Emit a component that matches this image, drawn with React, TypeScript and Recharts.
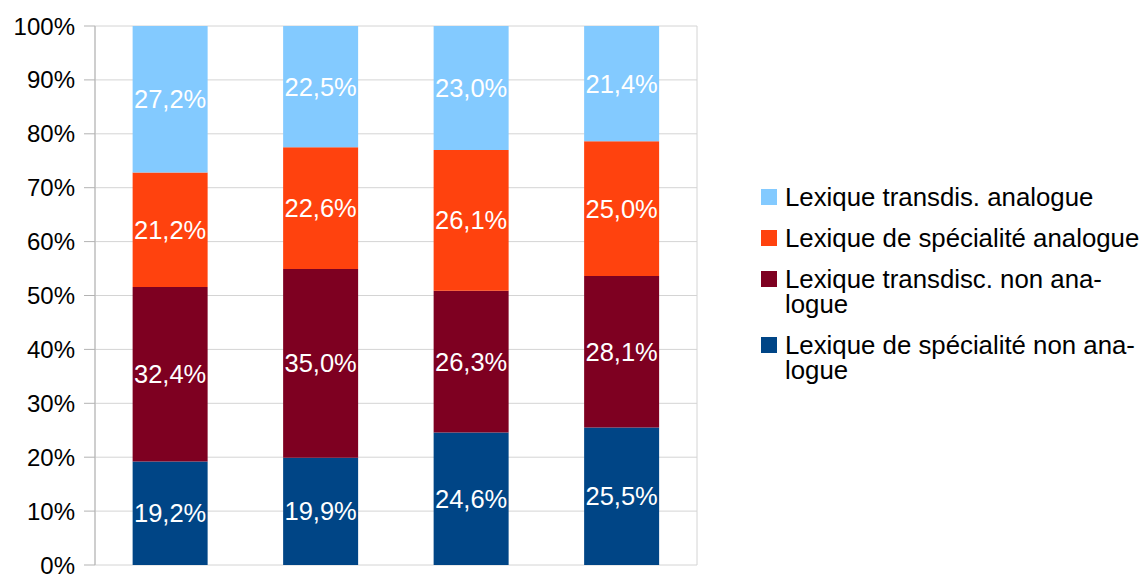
import { Bar, BarChart, CartesianGrid, LabelList, Legend, XAxis, YAxis } from "recharts";

const categories = ["1", "2", "3", "4"];
const specNonAnalogue = [19.2, 19.9, 24.6, 25.5];
const transNonAnalogue = [32.4, 35.0, 26.3, 28.1];
const specAnalogue = [21.2, 22.6, 26.1, 25.0];
const transAnalogue = [27.2, 22.5, 23.0, 21.4];
const yTicks = [0, 10, 20, 30, 40, 50, 60, 70, 80, 90, 100];

const series = [
  { key: "specNon", name: "Lexique de spécialité non analogue", legend: "Lexique de spécialité non ana-\nlogue", color: "#004586" },
  { key: "transNon", name: "Lexique transdisc. non analogue", legend: "Lexique transdisc. non ana-\nlogue", color: "#7E0021" },
  { key: "specAna", name: "Lexique de spécialité analogue", legend: "Lexique de spécialité analogue", color: "#FF420E" },
  { key: "transAna", name: "Lexique transdis. analogue", legend: "Lexique transdis. analogue", color: "#83CAFF" },
];

const data = categories.map((c, i) => ({
  cat: c,
  specNon: specNonAnalogue[i],
  transNon: transNonAnalogue[i],
  specAna: specAnalogue[i],
  transAna: transAnalogue[i],
}));

const FONT = "'Liberation Sans', Arial, sans-serif";
const fmt = (v: number) => `${v.toFixed(1).replace(".", ",")}%`;

function LegendBox() {
  return (
    <div style={{ fontFamily: FONT, fontSize: 25.8, lineHeight: "25px", color: "#000", textAlign: "left" }}>
      {[...series].reverse().map((s) => (
        <div key={s.key} style={{ display: "flex", alignItems: "flex-start", marginBottom: 16 }}>
          <span
            style={{ width: 16, height: 16, background: s.color, marginTop: 4, marginRight: 8, flex: "none" }}
          />
          <span style={{ whiteSpace: "pre" }}>{s.legend}</span>
        </div>
      ))}
    </div>
  );
}

export default function App() {
  return (
    <div style={{ position: "absolute", left: 0, top: 0, width: 1143, height: 574, background: "#fff" }}>
      <BarChart
        width={1143}
        height={574}
        data={data}
        margin={{ top: 26, right: 446, bottom: 9, left: 0 }}
        barCategoryGap="25%"
      >
        <CartesianGrid
          stroke="#d4d4d4"
          verticalCoordinatesGenerator={({ offset }: any) => [offset.left, offset.left + offset.width]}
        />
        <XAxis dataKey="cat" tick={false} height={0} axisLine={{ stroke: "#b3b3b3", strokeWidth: 2 }} tickLine={false} />
        <YAxis
          width={95}
          domain={[0, 100]}
          ticks={yTicks}
          tickFormatter={(v) => `${v}%`}
          tick={{ fill: "#000", fontSize: 24, fontFamily: FONT }}
          tickSize={11}
          tickMargin={9}
          tickLine={{ stroke: "#b3b3b3" }}
          axisLine={{ stroke: "#b3b3b3" }}
          interval={0}
        />
        <Legend
          layout="vertical"
          verticalAlign="middle"
          align="center"
          content={() => <LegendBox />}
          wrapperStyle={{ left: 761, top: 185, width: 380 }}
        />
        {series.map((s) => (
          <Bar key={s.key} dataKey={s.key} name={s.name} stackId="a" fill={s.color} isAnimationActive={false}>
            <LabelList
              dataKey={s.key}
              position="center"
              formatter={(v: any) => fmt(Number(v))}
              fill="#fff"
              style={{ fontSize: 25.5, fontFamily: FONT }}
            />
          </Bar>
        ))}
      </BarChart>
    </div>
  );
}
